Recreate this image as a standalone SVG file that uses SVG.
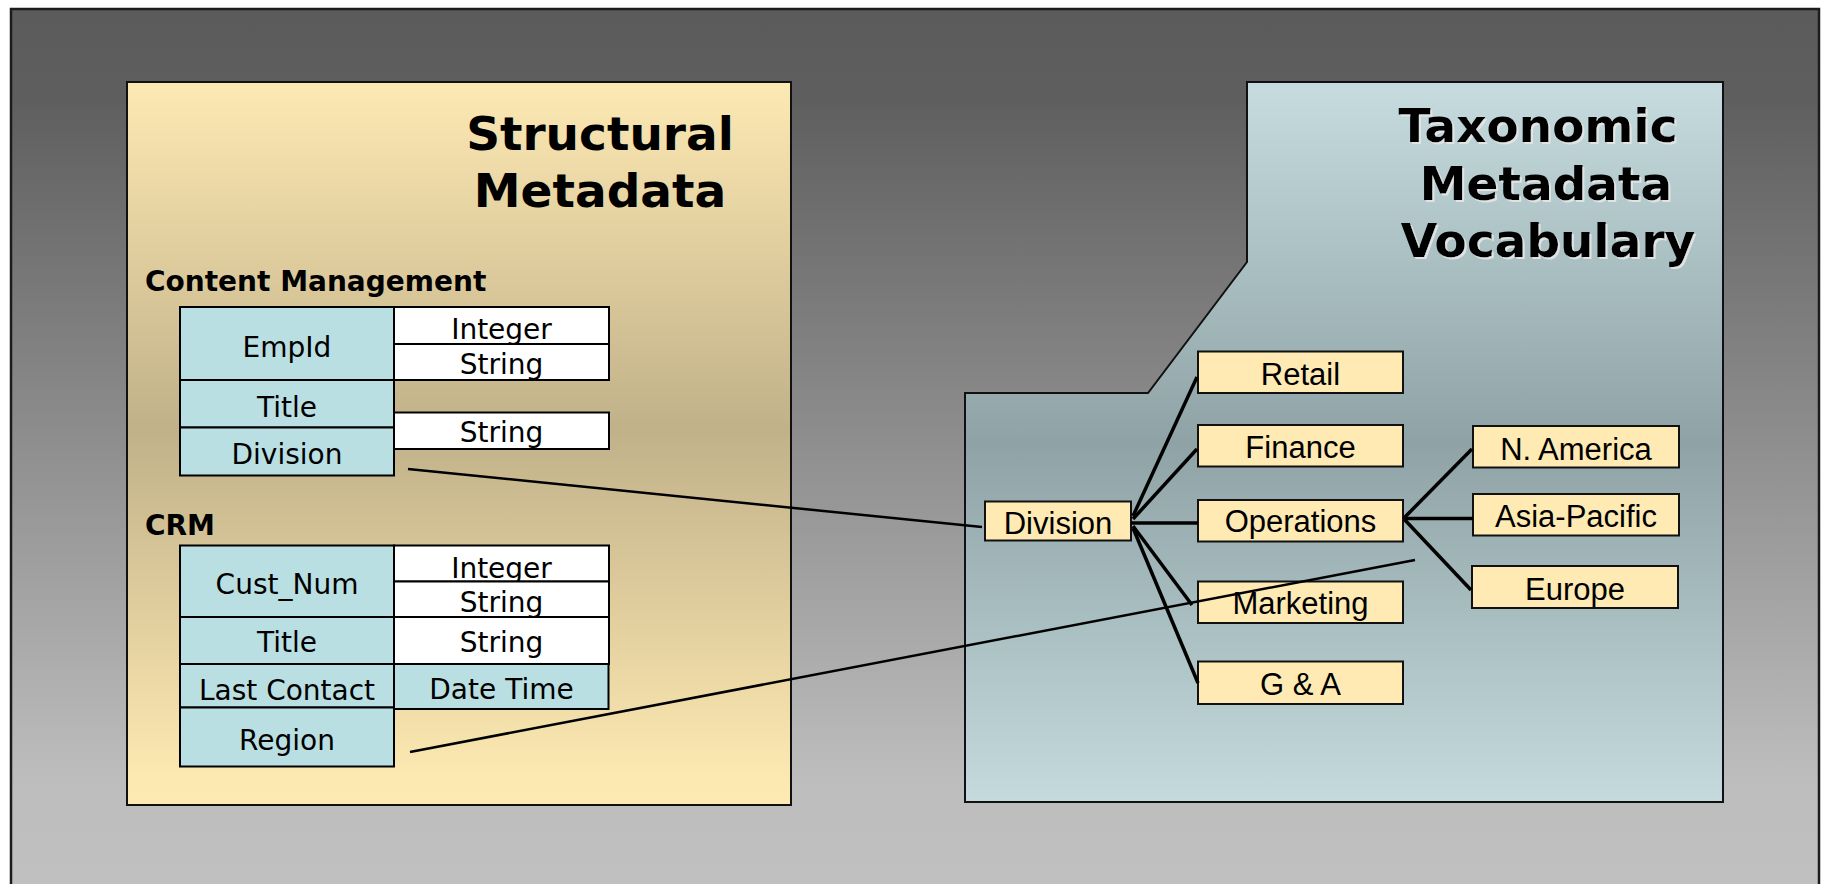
<svg xmlns="http://www.w3.org/2000/svg" width="1828" height="884" viewBox="0 0 1828 884">
  <defs>
    <linearGradient id="bgGrad" gradientUnits="userSpaceOnUse" x1="0" y1="9" x2="0" y2="884">
      <stop offset="0" stop-color="#5b5b5b"/>
      <stop offset="0.1" stop-color="#5e5e5e"/>
      <stop offset="0.88" stop-color="#bdbdbd"/>
      <stop offset="1" stop-color="#c0c0c0"/>
    </linearGradient>
    <linearGradient id="structGrad" gradientUnits="userSpaceOnUse" x1="0" y1="82" x2="0" y2="805">
      <stop offset="0" stop-color="#fde9b3"/>
      <stop offset="0.48" stop-color="#c1b189"/>
      <stop offset="0.96" stop-color="#fce8b1"/>
      <stop offset="1" stop-color="#fde9b3"/>
    </linearGradient>
    <linearGradient id="taxoGrad" gradientUnits="userSpaceOnUse" x1="0" y1="82" x2="0" y2="802">
      <stop offset="0" stop-color="#c6dcdf"/>
      <stop offset="0.5" stop-color="#8fa3a6"/>
      <stop offset="1" stop-color="#c4dadc"/>
    </linearGradient>
    <filter id="titleShadow" x="-5%" y="-20%" width="115%" height="150%">
      <feDropShadow dx="2" dy="2" stdDeviation="0.6" flood-color="#e6e6e6" flood-opacity="0.9"/>
    </filter>
  </defs>
  <style>
    .frame { fill: url(#bgGrad); stroke: #1c1c1c; stroke-width: 2.5; }
    .panel { stroke: #111; stroke-width: 2; }
    .title { font-family: "DejaVu Sans", Verdana, sans-serif; font-weight: bold; font-size: 47px; fill: #000; text-anchor: middle; }
    .heading { font-family: "DejaVu Sans", Verdana, sans-serif; font-weight: bold; font-size: 28px; fill: #000; }
    .field { fill: #b9dfe2; stroke: #000; stroke-width: 2; }
    .ftype { fill: #ffffff; stroke: #000; stroke-width: 2; }
    .cell { font-family: "DejaVu Sans", Verdana, sans-serif; font-size: 28px; fill: #000; text-anchor: middle; }
    .term { fill: #ffeab3; stroke: #111; stroke-width: 2; }
    .termText { font-family: "Liberation Sans", Arial, sans-serif; font-size: 31px; fill: #000; text-anchor: middle; }
    .tree { stroke: #000; stroke-width: 3.5; fill: none; stroke-linecap: butt; }
    .link { stroke: #000; stroke-width: 2.5; fill: none; }
  </style>

  <!-- background frame -->
  <rect class="frame" x="11" y="9" width="1808" height="900"/>

  <!-- structural metadata panel -->
  <g id="structural-panel">
    <rect class="panel" x="127" y="82" width="664" height="723" fill="url(#structGrad)"/>
    <text class="title" x="600" y="150">Structural</text>
    <text class="title" x="600" y="207">Metadata</text>
  </g>

  <!-- taxonomic vocabulary panel -->
  <g id="taxonomic-panel">
    <polygon class="panel" fill="url(#taxoGrad)" points="1247,82 1723,82 1723,802 965,802 965,393 1148,393 1247,262"/>
    <g filter="url(#titleShadow)">
      <text class="title" x="1538" y="142">Taxonomic</text>
      <text class="title" x="1546" y="200">Metadata</text>
      <text class="title" x="1548" y="257">Vocabulary</text>
    </g>
  </g>

  <!-- content management table -->
  <g id="cm-heading"><text class="heading" x="145" y="291">Content Management</text></g>
  <g id="cm-empid">
    <rect class="field" x="180" y="307" width="214" height="73"/>
    <text class="cell" x="287" y="357">EmpId</text>
  </g>
  <g id="cm-empid-integer">
    <rect class="ftype" x="394" y="307" width="215" height="37"/>
    <text class="cell" x="501.5" y="338.5">Integer</text>
  </g>
  <g id="cm-empid-string">
    <rect class="ftype" x="394" y="344" width="215" height="36"/>
    <text class="cell" x="501.5" y="373.5">String</text>
  </g>
  <g id="cm-title">
    <rect class="field" x="180" y="380" width="214" height="47.5"/>
    <text class="cell" x="287" y="417">Title</text>
  </g>
  <g id="cm-division">
    <rect class="field" x="180" y="427.5" width="214" height="48"/>
    <text class="cell" x="287" y="464">Division</text>
  </g>
  <g id="cm-title-string">
    <rect class="ftype" x="394" y="412.5" width="215" height="36.5"/>
    <text class="cell" x="501.5" y="442">String</text>
  </g>

  <!-- CRM table -->
  <g id="crm-heading"><text class="heading" x="145" y="534.5">CRM</text></g>
  <g id="crm-custnum">
    <rect class="field" x="180" y="545.5" width="214" height="71.5"/>
    <text class="cell" x="287" y="593.5">Cust_Num</text>
  </g>
  <g id="crm-custnum-integer">
    <rect class="ftype" x="394" y="545.5" width="215" height="36"/>
    <text class="cell" x="501.5" y="578">Integer</text>
  </g>
  <g id="crm-custnum-string">
    <rect class="ftype" x="394" y="581.5" width="215" height="35.5"/>
    <text class="cell" x="501.5" y="612">String</text>
  </g>
  <g id="crm-title">
    <rect class="field" x="180" y="617" width="214" height="47"/>
    <text class="cell" x="287" y="652">Title</text>
  </g>
  <g id="crm-title-string">
    <rect class="ftype" x="394" y="617" width="215" height="47"/>
    <text class="cell" x="501.5" y="652">String</text>
  </g>
  <g id="crm-lastcontact">
    <rect class="field" x="180" y="664" width="214" height="43.5"/>
    <text class="cell" x="287" y="699.5">Last Contact</text>
  </g>
  <g id="crm-datetime">
    <rect class="field" x="394" y="664" width="214.5" height="45"/>
    <text class="cell" x="501.5" y="698.5">Date Time</text>
  </g>
  <g id="crm-region">
    <rect class="field" x="180" y="707.5" width="214" height="59"/>
    <text class="cell" x="287" y="749.5">Region</text>
  </g>

  <!-- taxonomy terms -->
  <g id="term-division">
    <rect class="term" x="985" y="501.5" width="146" height="39"/>
    <text class="termText" x="1058" y="533.5">Division</text>
  </g>
  <g id="term-retail">
    <rect class="term" x="1198" y="351.5" width="205" height="41.5"/>
    <text class="termText" x="1300.5" y="384.5">Retail</text>
  </g>
  <g id="term-finance">
    <rect class="term" x="1198" y="425" width="205" height="41.5"/>
    <text class="termText" x="1300.5" y="457.5">Finance</text>
  </g>
  <g id="term-operations">
    <rect class="term" x="1198" y="500" width="205" height="41.5"/>
    <text class="termText" x="1300.5" y="531.5">Operations</text>
  </g>
  <g id="term-marketing">
    <rect class="term" x="1198" y="581.5" width="205" height="41.5"/>
    <text class="termText" x="1300.5" y="614">Marketing</text>
  </g>
  <g id="term-ga">
    <rect class="term" x="1198" y="661.5" width="205" height="42.5"/>
    <text class="termText" x="1300.5" y="695">G &amp; A</text>
  </g>
  <g id="term-namerica">
    <rect class="term" x="1473" y="426" width="206" height="41.5"/>
    <text class="termText" x="1576" y="459.5">N. America</text>
  </g>
  <g id="term-asiapacific">
    <rect class="term" x="1473" y="494" width="206" height="41.5"/>
    <text class="termText" x="1576" y="527">Asia-Pacific</text>
  </g>
  <g id="term-europe">
    <rect class="term" x="1472" y="566" width="206" height="42"/>
    <text class="termText" x="1575" y="599.5">Europe</text>
  </g>

  <!-- connectors -->
  <g id="connectors">
    <line class="tree" x1="1133" y1="516" x2="1197" y2="377"/>
    <line class="tree" x1="1133" y1="519" x2="1197" y2="449"/>
    <line class="tree" x1="1131" y1="523" x2="1198" y2="523"/>
    <line class="tree" x1="1133" y1="526" x2="1192" y2="605"/>
    <line class="tree" x1="1133" y1="528" x2="1198" y2="683"/>
    <line class="tree" x1="1404" y1="518" x2="1472" y2="449"/>
    <line class="tree" x1="1403" y1="518.5" x2="1473" y2="518.5"/>
    <line class="tree" x1="1404" y1="519" x2="1471" y2="590"/>
    <line class="link" x1="408" y1="469" x2="982" y2="527"/>
    <line class="link" x1="410" y1="752" x2="1415" y2="560"/>
  </g>
</svg>
